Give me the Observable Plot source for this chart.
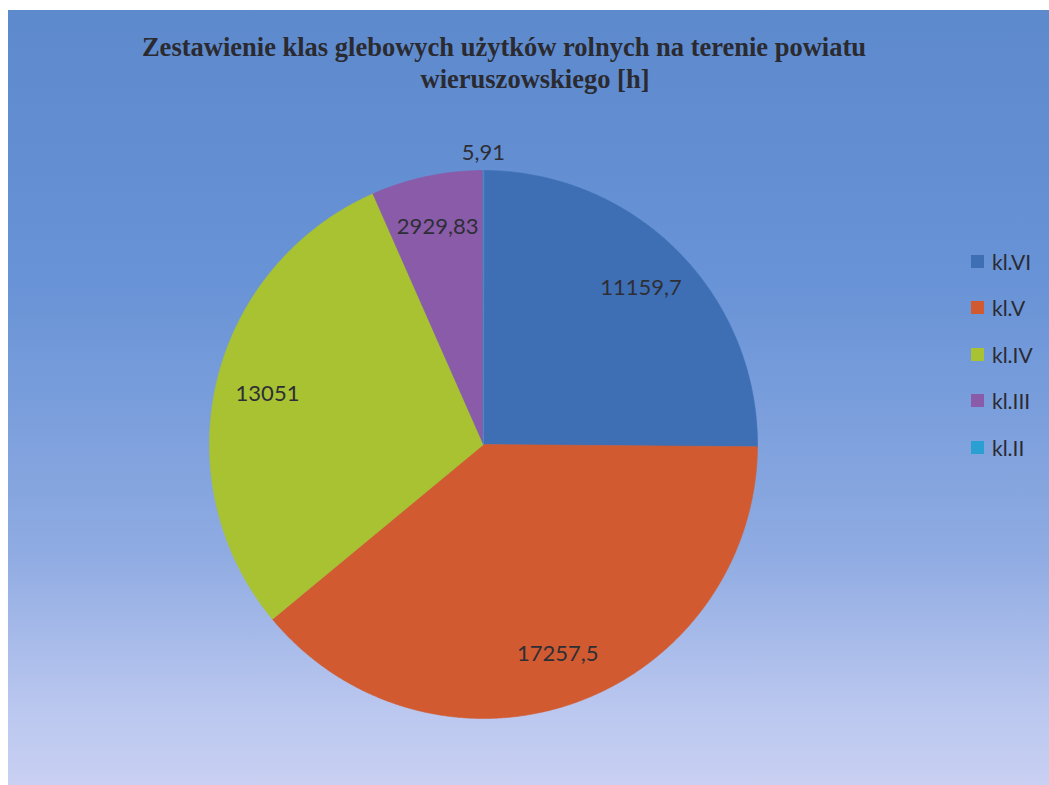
<!DOCTYPE html>
<html>
<head>
<meta charset="utf-8">
<script src="https://cdn.jsdelivr.net/npm/d3@7"></script>
<script src="https://cdn.jsdelivr.net/npm/@observablehq/plot@0.6"></script>
<style>
  html, body { margin: 0; padding: 0; background: #ffffff; width: 1049px; height: 785px; overflow: hidden; }
  #bg { position: absolute; left: 8px; top: 10px; width: 1041px; height: 775px;
        background: linear-gradient(to bottom, #5d8acd 0%, #6893d6 35%, #8fabe2 70%, #bac7ef 90%, #c9d0f2 100%); }
  #chart { position: absolute; left: 0; top: 0; }
  .title { position: absolute; font-family: "Liberation Serif", "Times New Roman", serif; font-weight: bold;
           font-size: 26.5px; color: #2a2a30; white-space: nowrap; transform: translateX(-50%); line-height: 1; }
  #legend { position: absolute; left: 971px; top: 250px; font-family: Lato, "Open Sans", sans-serif; font-size: 21px; color: #2a2a33; }
  .item { position: absolute; left: 0; height: 22px; display: flex; align-items: center; white-space: nowrap; }
  .sw { width: 13px; height: 13px; margin-right: 8px; }
</style>
</head>
<body>
<div id="bg"></div>
<div class="title" style="left:504px; top:34px;">Zestawienie klas glebowych użytków rolnych na terenie powiatu</div>
<div class="title" style="left:535px; top:66px;">wieruszowskiego [h]</div>
<div id="chart"></div>
<div id="legend"></div>
<script>
const categories = ["kl.VI", "kl.V", "kl.IV", "kl.III", "kl.II"];
const values = [11159.7, 17257.5, 13051, 2929.83, 5.91];
const valueLabels = ["11159,7", "17257,5", "13051", "2929,83", "5,91"];
const colors = ["#3e6fb5", "#d15a30", "#a8c232", "#8a5ba8", "#2a9fd2"];

const W = 1049, H = 785;
const cx = 483, cy = 444, R = 274;

const total = d3.sum(values);
const arcs = d3.pie().sort(null).value(d => d)(values);

// slice outlines built from the pie angles
const sliceMarks = arcs.map((a, i) => {
  const pts = [{x: 0, y: 0}];
  const n = Math.max(2, Math.ceil((a.endAngle - a.startAngle) / 0.005));
  for (let k = 0; k <= n; k++) {
    const t = a.startAngle + (a.endAngle - a.startAngle) * k / n;
    pts.push({x: Math.sin(t), y: Math.cos(t)});
  }
  return Plot.line(pts, {x: "x", y: "y", fill: colors[i], stroke: colors[i], strokeWidth: 0.6, curve: "linear-closed"});
});

const labelData = arcs.map((a, i) => {
  const mid = (a.startAngle + a.endAngle) / 2;
  const small = values[i] / total < 0.01;
  const rr = small ? 1.065 : 0.81;
  return {x: rr * Math.sin(mid), y: rr * Math.cos(mid), text: valueLabels[i]};
});

const chart = Plot.plot({
  width: W, height: H,
  margin: 0,
  style: {background: "transparent", overflow: "visible"},
  x: {domain: [-1, 1], range: [cx - R, cx + R], axis: null},
  y: {domain: [-1, 1], range: [cy + R, cy - R], axis: null},
  marks: [
    ...sliceMarks,
    Plot.text(labelData, {x: "x", y: "y", text: "text", fontSize: 22, fontFamily: "Lato, 'Open Sans', sans-serif", fill: "#2e2e36"})
  ]
});
document.getElementById("chart").appendChild(chart);

const legend = document.getElementById("legend");
categories.forEach((c, i) => {
  const it = document.createElement("div");
  it.className = "item";
  it.style.top = (i * 46.5) + "px";
  const sw = document.createElement("div");
  sw.className = "sw";
  sw.style.background = colors[i];
  const tx = document.createElement("span");
  tx.textContent = c;
  it.appendChild(sw); it.appendChild(tx);
  legend.appendChild(it);
});
</script>
</body>
</html>
